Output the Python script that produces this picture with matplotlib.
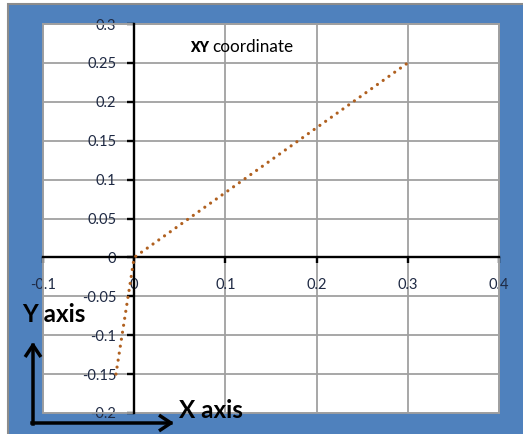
import matplotlib
matplotlib.use("Agg")
import matplotlib.pyplot as plt
from matplotlib.patches import Rectangle

# data
xs = [-0.02, 0.0, 0.3]
ys = [-0.15, 0.0, 0.25]

x_ticks = [-0.1, 0, 0.1, 0.2, 0.3, 0.4]
y_ticks = [-0.2, -0.15, -0.1, -0.05, 0, 0.05, 0.1, 0.15, 0.2, 0.25, 0.3]
x_labels = ["-0.1", "0", "0.1", "0.2", "0.3", "0.4"]
y_labels = ["-0.2", "-0.15", "-0.1", "-0.05", "0", "0.05", "0.1", "0.15", "0.2", "0.25", "0.3"]

W, H = 523, 434
plt.rcParams["font.family"] = ["Lato", "DejaVu Sans"]

fig = plt.figure(figsize=(W / 100, H / 100), dpi=100)
fig.patch.set_facecolor("white")

# blue chart background with grey frame on the left/top
bg = Rectangle((8 / W, -0.01), 1.02 - 8 / W, 1.01 - 4 / H, transform=fig.transFigure,
               facecolor="#4f81bd", edgecolor="#8c8c8c", linewidth=1.5, zorder=-1)
fig.patches.append(bg)

ax = fig.add_axes([43 / W, 1 - 413 / H, 456 / W, 389 / H])
ax.set_zorder(1)
ax.set_facecolor("white")
ax.set_xlim(-0.1, 0.4)
ax.set_ylim(-0.2, 0.3)

ax.set_xticks(x_ticks)
ax.set_xticklabels(x_labels)
ax.set_yticks(y_ticks)
ax.set_yticklabels(y_labels)

ax.grid(True, color="#a0a0a0", linewidth=1.3)
ax.set_axisbelow(True)

for s in ["top", "right"]:
    ax.spines[s].set_color("#a0a0a0")
    ax.spines[s].set_linewidth(1.3)
ax.spines["left"].set_position(("data", 0))
ax.spines["bottom"].set_position(("data", 0))
for s in ["left", "bottom"]:
    ax.spines[s].set_color("black")
    ax.spines[s].set_linewidth(1.7)
    ax.spines[s].set_zorder(3)

# plot area border
ax.add_patch(Rectangle((0, 0), 1, 1, transform=ax.transAxes, fill=False,
                       edgecolor="#a0a0a0", linewidth=1.3, zorder=2, clip_on=False))

ax.tick_params(axis="y", direction="out", length=5, width=1.7, pad=8,
               labelsize=10.5, labelcolor="#1f2a44")
ax.tick_params(axis="x", direction="out", length=4, width=1.7, pad=11,
               labelsize=10.5, labelcolor="#1f2a44")

ax.plot(xs, ys, color="#b0601f", linewidth=2.3, linestyle=(0, (0.01, 2.2)),
        dash_capstyle="round", zorder=4)

# title-like note inside the plot
fig.text(190, H - 47, "XY", transform=None, fontsize=10, fontweight="heavy",
         va="center", ha="left", color="black", zorder=10)
fig.text(212, H - 47, "coordinate", transform=None, fontsize=12.3,
         va="center", ha="left", color="black", zorder=10)

# axis captions with L-shaped arrows
fig.text(22, H - 314, "Y axis", transform=None, fontsize=17.5, fontweight="bold",
         va="center", ha="left", color="black", zorder=10)
fig.text(179, H - 410, "X axis", transform=None, fontsize=17.5, fontweight="bold",
         va="center", ha="left", color="black", zorder=10)

arrow = dict(arrowstyle="->,head_length=0.75,head_width=0.5", color="black",
             linewidth=2.5, shrinkA=0, shrinkB=0, capstyle="projecting")
ax.annotate("", xy=(33, H - 342), xytext=(33, H - 424), xycoords="figure pixels",
            textcoords="figure pixels", arrowprops=arrow, annotation_clip=False)
ax.annotate("", xy=(174, H - 423), xytext=(32, H - 423), xycoords="figure pixels",
            textcoords="figure pixels", arrowprops=arrow, annotation_clip=False)

fig.savefig("out.png", dpi=100)
